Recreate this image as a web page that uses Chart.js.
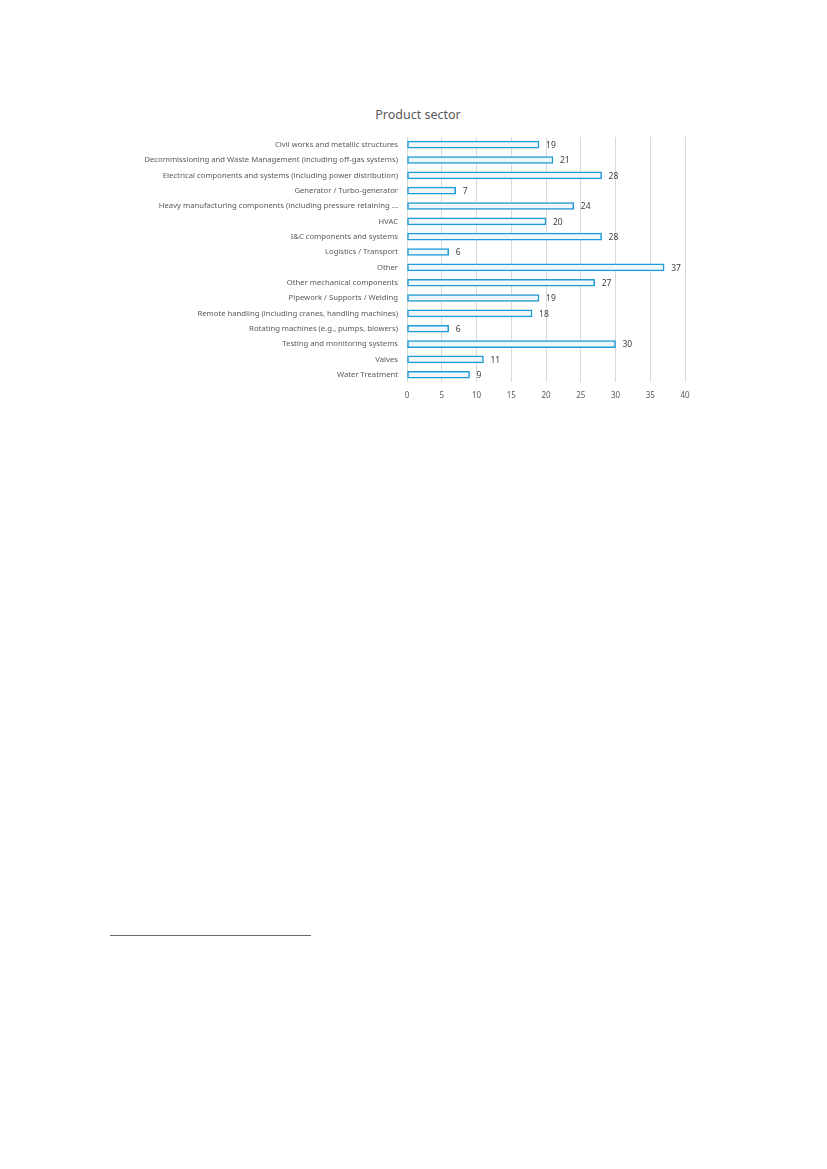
<!DOCTYPE html>
<html>
<head>
<meta charset="utf-8">
<script src="https://cdn.jsdelivr.net/npm/chart.js@4.4.1/dist/chart.umd.min.js"></script>
<style>
  body { margin: 0; background: #fff; width: 827px; height: 1169px; position: relative; font-family: "Noto Sans", sans-serif; }
  .title { position: absolute; left: 318px; top: 106px; width: 200px; text-align: center; font-size: 12.5px; color: #595959; }
  #wrap { position: absolute; left: 136px; top: 131px; width: 564px; height: 279px; }
  .footline { position: absolute; left: 110px; top: 935px; width: 201px; height: 1px; background: #6b6b6b; }
</style>
</head>
<body>
<div class="title">Product sector</div>
<div id="wrap"><canvas id="sectorChart"></canvas></div>
<div class="footline"></div>
<script>
// Data
const sectors = [
  "Civil works and metallic structures",
  "Decommissioning and Waste Management (including off-gas systems)",
  "Electrical components and systems (including power distribution)",
  "Generator / Turbo-generator",
  "Heavy manufacturing components (including pressure retaining ...",
  "HVAC",
  "I&C components and systems",
  "Logistics / Transport",
  "Other",
  "Other mechanical components",
  "Pipework / Supports / Welding",
  "Remote handling (including cranes, handling machines)",
  "Rotating machines (e.g., pumps, blowers)",
  "Testing and monitoring systems",
  "Valves",
  "Water Treatment",
];
const counts = [19, 21, 28, 7, 24, 20, 28, 6, 37, 27, 19, 18, 6, 30, 11, 9];
const xTicks = [0, 5, 10, 15, 20, 25, 30, 35, 40];

// Value labels at bar ends
const valueLabels = {
  id: "valueLabels",
  afterDatasetsDraw(chart) {
    const ctx = chart.ctx;
    const meta = chart.getDatasetMeta(0);
    ctx.save();
    ctx.font = "8.5px 'Noto Sans'";
    ctx.fillStyle = "#404040";
    ctx.textBaseline = "middle";
    meta.data.forEach((bar, i) => {
      ctx.fillText(String(counts[i]), bar.x + 7, bar.y + 1);
    });
    ctx.restore();
  },
};

new Chart(document.getElementById("sectorChart"), {
  type: "bar",
  data: {
    labels: sectors,
    datasets: [
      {
        data: counts,
        backgroundColor: "#eef7fc",
        borderColor: "#1e9ad6",
        borderWidth: 1.5,
        borderSkipped: false,
        barThickness: 7,
      },
    ],
  },
  options: {
    indexAxis: "y",
    responsive: true,
    maintainAspectRatio: false,
    animation: false,
    layout: { padding: { left: 0, right: 15, top: 6, bottom: 0 } },
    plugins: {
      legend: { display: false },
      tooltip: { enabled: false },
      title: { display: false },
    },
    scales: {
      x: {
        min: 0,
        max: 40,
        afterBuildTicks: (scale) => {
          scale.ticks = xTicks.map((v) => ({ value: v }));
        },
        grid: { color: "#d9d9d9", drawTicks: false },
        border: { display: false },
        ticks: { color: "#595959", font: { family: "Noto Sans", size: 8 }, padding: 9 },
      },
      y: {
        afterFit: (scale) => {
          scale.width = 271;
        },
        grid: { display: false },
        border: { display: false },
        ticks: {
          color: "#595959",
          font: { family: "Noto Sans", size: 7.7 },
          padding: 1,
          autoSkip: false,
        },
      },
    },
  },
  plugins: [valueLabels],
});
</script>
</body>
</html>
